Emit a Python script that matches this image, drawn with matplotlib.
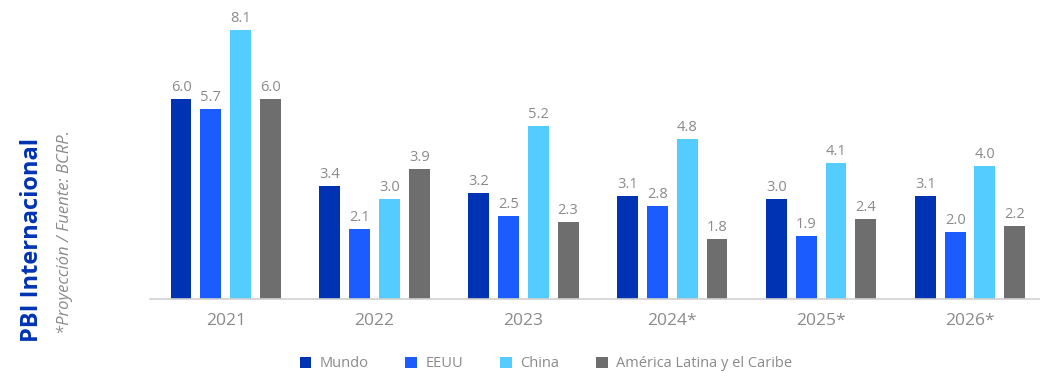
import matplotlib
matplotlib.use("Agg")
import matplotlib.pyplot as plt
import numpy as np
from matplotlib.patches import Patch

years = ["2021", "2022", "2023", "2024*", "2025*", "2026*"]
series_names = ["Mundo", "EEUU", "China", "América Latina y el Caribe"]
mundo = [6.0, 3.4, 3.2, 3.1, 3.0, 3.1]
eeuu = [5.7, 2.1, 2.5, 2.8, 1.9, 2.0]
china = [8.1, 3.0, 5.2, 4.8, 4.1, 4.0]
america_latina = [6.0, 3.9, 2.3, 1.8, 2.4, 2.2]

COLORS = ["#0033b3", "#1a5cff", "#55ccff", "#6e6e6e"]
TEXT_GRAY = "#8a8a8a"

plt.rcParams["font.family"] = ["Open Sans", "DejaVu Sans"]

fig = plt.figure(figsize=(10.4, 3.76), dpi=100)
ax = fig.add_axes([0.144, 0.205, 0.856, 0.787])

x = np.arange(len(years))
offsets = [-0.3, -0.1, 0.1, 0.3]
width = 0.14
for vals, off, color in zip([mundo, eeuu, china, america_latina], offsets, COLORS):
    bars = ax.bar(x + off, vals, width=width, color=color, zorder=2)
    for b, v in zip(bars, vals):
        ax.text(b.get_x() + b.get_width() / 2, v + 0.12, f"{v:.1f}",
                ha="center", va="bottom", fontsize=10.5, color=TEXT_GRAY)

ax.set_xlim(-0.51, 5.47)
ax.set_ylim(0, 8.9)
ax.set_yticks([])
ax.set_xticks(x)
ax.set_xticklabels(years, fontsize=12.5, color=TEXT_GRAY)
ax.tick_params(axis="x", length=0, pad=10)
for side in ["top", "right", "left"]:
    ax.spines[side].set_visible(False)
ax.spines["bottom"].set_color("#d0d0d0")
ax.spines["bottom"].set_linewidth(1.2)

handles = [Patch(facecolor=c, label=n) for c, n in zip(COLORS, series_names)]
fig.legend(handles=handles, loc="center", bbox_to_anchor=(0.525, 0.032), ncol=4,
           frameon=False, fontsize=10.5, labelcolor=TEXT_GRAY, handlelength=0.8,
           handleheight=0.8, columnspacing=2.5, handletextpad=0.6)

fig.text(0.031, 0.362, "PBI Internacional", rotation=90, ha="center", va="center",
         fontsize=17, fontweight="bold", color="#0033b3")
fig.text(0.062, 0.383, "*Proyección / Fuente: BCRP.", rotation=90, ha="center",
         va="center", fontsize=12, style="italic", color=TEXT_GRAY)

fig.savefig("out.png", dpi=100)
